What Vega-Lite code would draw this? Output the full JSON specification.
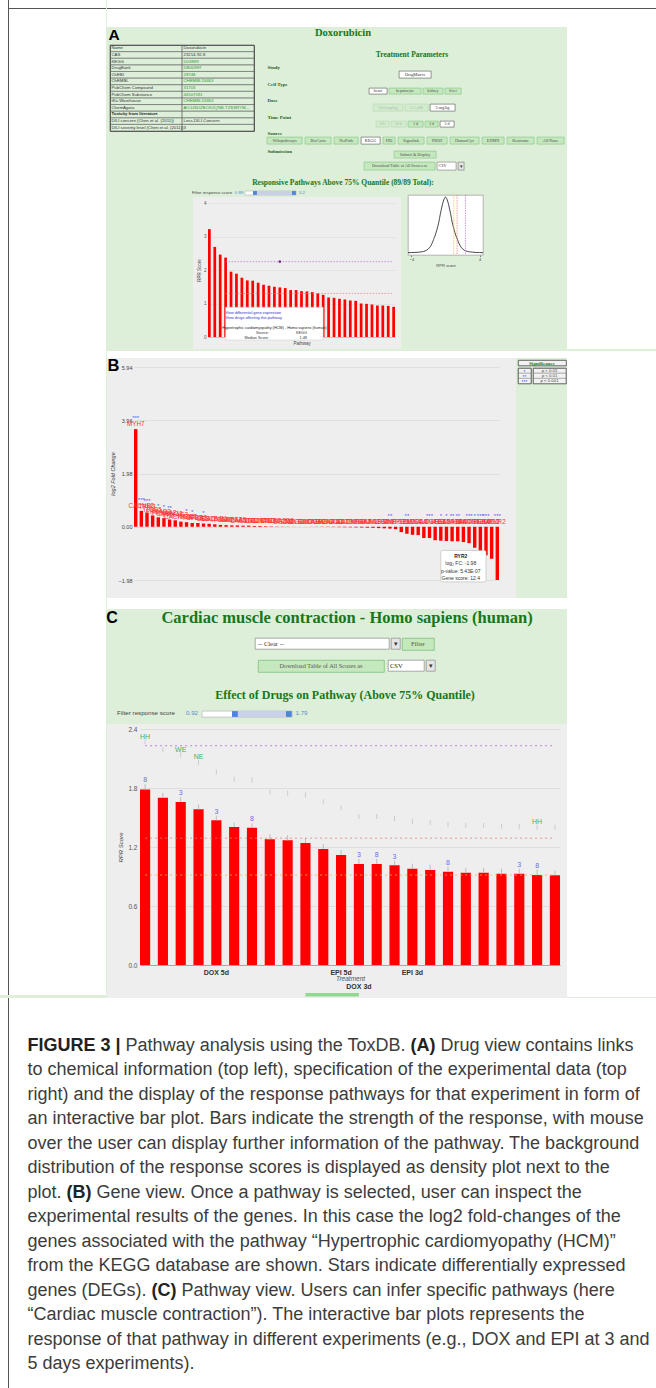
{
"$schema": "https://vega.github.io/schema/vega-lite/v6.json",
"background": "#ddeed9",
"padding": 0,
"config": {"view": {"stroke": null}, "concat": {"spacing": 0}, "axis": {"labelFont": "Liberation Sans", "titleFont": "Liberation Sans"}, "legend": {"labelFont": "Liberation Sans", "titleFont": "Liberation Sans"}, "title": {"font": "Liberation Sans"}, "text": {"font": "Liberation Sans"}},
"spacing": 0,
"vconcat": [
{"spacing": 0, "hconcat": [
 {"width": 8, "height": 995, "view": {"fill": "white"}, "data": {"values": []}, "mark": "point"},
 {"width": 1, "height": 995, "view": {"fill": "#555555"}, "data": {"values": []}, "mark": "point"},
 {"spacing": 0, "vconcat": [
   {"width": 97, "height": 8, "view": {"fill": "white"}, "data": {"values": []}, "mark": "point"},
   {"width": 97, "height": 1, "view": {"fill": "#555555"}, "data": {"values": []}, "mark": "point"},
   {"width": 97, "height": 986, "view": {"fill": "white"}, "data": {"values": []}, "mark": "point"}]},
 {"spacing": 0, "vconcat": [
   {"width": 550, "height": 8, "view": {"fill": "white"}, "data": {"values": []}, "mark": "point"},
   {"width": 550, "height": 1, "view": {"fill": "#555555"}, "data": {"values": []}, "mark": "point"},
   {"width": 550, "height": 18, "view": {"fill": "white"}, "data": {"values": []}, "mark": "point"},
   {"spacing": 0, "hconcat": [
     {"spacing": 0, "vconcat": [
       {"spacing": 0, "hconcat": [
         {"width": 14, "height": 16, "data": {"values": [{"t": "A"}]}, "mark": {"type": "text", "fontSize": 15.5, "fontWeight": "bold", "color": "#000000", "baseline": "middle"}, "encoding": {"text": {"field": "t"}}},
         {"width": 182, "height": 16, "data": {"values": []}, "mark": "point"},
         {"width": 80, "height": 16, "data": {"values": [{"t": "Doxorubicin"}]}, "mark": {"type": "text", "font": "Liberation Serif", "fontSize": 10.5, "fontWeight": "bold", "color": "#16781a", "baseline": "middle", "dy": -2}, "encoding": {"text": {"field": "t"}}},
         {"width": 184, "height": 16, "data": {"values": []}, "mark": "point"}
       ]},
       {"spacing": 0, "hconcat": [
         {"width": 2, "height": 1, "data": {"values": []}, "mark": "point"},
         {"width": 144, "height": 86, "view": {"stroke": "#333333", "strokeWidth": 0.9},
          "data": {"values": [
            {"r": 1, "k": "Name", "v": "Doxorubicin", "lk": false},
            {"r": 2, "k": "CAS", "v": "23214-92-8", "lk": false},
            {"r": 3, "k": "KEGG", "v": "D03899", "lk": true},
            {"r": 4, "k": "DrugBank", "v": "DB00997", "lk": true},
            {"r": 5, "k": "ChEBI", "v": "28748", "lk": true},
            {"r": 6, "k": "ChEMBL", "v": "CHEMBL53463", "lk": true},
            {"r": 7, "k": "PubChem Compound", "v": "31703", "lk": true},
            {"r": 8, "k": "PubChem Substance", "v": "46507591", "lk": true},
            {"r": 9, "k": "tKa Warehouse", "v": "CHEMBL53463", "lk": true},
            {"r": 10, "k": "ChemAgora", "v": "AOJJSUZBOXZQNB-TZSSRYMLSA-N", "lk": true},
            {"r": 11, "k": "Toxicity from literature", "v": "", "lk": false},
            {"r": 12, "k": "DILI concern (Chen et al. (2011))", "v": "Less-DILI-Concern", "lk": false},
            {"r": 13, "k": "DILI severity level (Chen et al. (2011))", "v": "3", "lk": false}]},
          "transform": [{"fold": ["k", "v"], "as": ["col", "txt"]}],
          "encoding": {
            "x": {"field": "col", "type": "nominal", "scale": {"paddingInner": 0, "paddingOuter": 0}, "axis": null},
            "y": {"field": "r", "type": "ordinal", "scale": {"paddingInner": 0, "paddingOuter": 0}, "axis": null}},
          "layer": [
            {"mark": {"type": "rect", "fill": "transparent", "stroke": "#666666", "strokeWidth": 0.5}},
            {"transform": [{"filter": "datum.col == 'k' && datum.r != 11"}], "mark": {"type": "text", "align": "left", "baseline": "middle", "fontSize": 4.3, "dx": 1.5, "color": "#333333", "limit": 138},
             "encoding": {"x": {"field": "col", "type": "nominal", "bandPosition": 0}, "text": {"field": "txt"}}},
            {"transform": [{"filter": "datum.col == 'v'"}], "mark": {"type": "text", "align": "left", "baseline": "middle", "fontSize": 4.3, "dx": 1.5, "limit": 68},
             "encoding": {"x": {"field": "col", "type": "nominal", "bandPosition": 0}, "text": {"field": "txt"}, "color": {"condition": {"test": "datum.lk", "value": "#2c9a2c"}, "value": "#333333"}}},
            {"transform": [{"filter": "datum.col == 'k' && datum.r == 11"}], "mark": {"type": "text", "align": "left", "baseline": "middle", "fontSize": 4.3, "fontWeight": "bold", "color": "#222222", "dx": 1.5},
             "encoding": {"x": {"field": "col", "type": "nominal", "bandPosition": 0}, "text": {"field": "txt"}}}
          ]},
         {"width": 11, "height": 1, "data": {"values": []}, "mark": "point"},
         {"spacing": 0, "vconcat": [
           {"width": 1, "height": 3, "data": {"values": []}, "mark": "point"},
           {"spacing": 0, "hconcat": [
             {"width": 100, "height": 14, "data": {"values": []}, "mark": "point"},
             {"width": 90, "height": 14, "data": {"values": [{"t": "Treatment Parameters"}]}, "mark": {"type": "text", "font": "Liberation Serif", "fontSize": 7.5, "fontWeight": "bold", "color": "#16781a", "baseline": "middle"}, "encoding": {"text": {"field": "t"}}}]},
           {"width": 1, "height": 2, "data": {"values": []}, "mark": "point"},
           {"width": 1, "height": 6, "data": {"values": [{"t": "Study"}]}, "mark": {"type": "text", "align": "left", "baseline": "middle", "font": "Liberation Serif", "fontSize": 5, "fontWeight": "bold", "color": "#1f5f1f"}, "encoding": {"text": {"field": "t"}}},
           {"spacing": 0, "hconcat": [
             {"width": 131, "height": 7, "data": {"values": []}, "mark": "point"},
             {"width": 32, "height": 7, "view": {"fill": "#ffffff", "stroke": "#555555", "strokeWidth": 0.6}, "data": {"values": [{"t": "DrugMatrix"}]}, "mark": {"type": "text", "font": "Liberation Serif", "fontSize": 4.2, "color": "#333333", "baseline": "middle"}, "encoding": {"text": {"field": "t"}}}]},
           {"width": 1, "height": 1, "data": {"values": []}, "mark": "point"},
           {"width": 1, "height": 7, "data": {"values": [{"t": "Cell Type"}]}, "mark": {"type": "text", "align": "left", "baseline": "middle", "font": "Liberation Serif", "fontSize": 5, "fontWeight": "bold", "color": "#1f5f1f"}, "encoding": {"text": {"field": "t"}}},
           {"spacing": 0, "hconcat": [
             {"width": 101, "height": 6, "data": {"values": []}, "mark": "point"},
             {"width": 18, "height": 6, "view": {"fill": "#ffffff", "stroke": "#555555", "strokeWidth": 0.6}, "data": {"values": [{"t": "heart"}]}, "mark": {"type": "text", "font": "Liberation Serif", "fontSize": 4.2, "color": "#333333", "baseline": "middle"}, "encoding": {"text": {"field": "t"}}},
             {"width": 32, "height": 6, "view": {"fill": "#c6e8bf", "stroke": "#7fc27f", "strokeWidth": 0.6}, "data": {"values": [{"t": "hepatocyte"}]}, "mark": {"type": "text", "font": "Liberation Serif", "fontSize": 4.2, "color": "#4d4d4d", "baseline": "middle"}, "encoding": {"text": {"field": "t"}}},
             {"width": 20, "height": 6, "view": {"fill": "#c6e8bf", "stroke": "#7fc27f", "strokeWidth": 0.6}, "data": {"values": [{"t": "kidney"}]}, "mark": {"type": "text", "font": "Liberation Serif", "fontSize": 4.2, "color": "#4d4d4d", "baseline": "middle"}, "encoding": {"text": {"field": "t"}}},
             {"width": 16, "height": 6, "view": {"fill": "#c6e8bf", "stroke": "#7fc27f", "strokeWidth": 0.6}, "data": {"values": [{"t": "liver"}]}, "mark": {"type": "text", "font": "Liberation Serif", "fontSize": 4.2, "color": "#4d4d4d", "baseline": "middle"}, "encoding": {"text": {"field": "t"}}}]},
           {"width": 1, "height": 2, "data": {"values": []}, "mark": "point"},
           {"width": 1, "height": 6, "data": {"values": [{"t": "Dose"}]}, "mark": {"type": "text", "align": "left", "baseline": "middle", "font": "Liberation Serif", "fontSize": 5, "fontWeight": "bold", "color": "#1f5f1f"}, "encoding": {"text": {"field": "t"}}},
           {"spacing": 0, "hconcat": [
             {"width": 105, "height": 7, "data": {"values": []}, "mark": "point"},
             {"width": 30, "height": 7, "view": {"fill": "#d3ebce", "stroke": "#b2d9ac", "strokeWidth": 0.6}, "data": {"values": [{"t": "0.63 mg/kg"}]}, "mark": {"type": "text", "font": "Liberation Serif", "fontSize": 4.2, "color": "#a9bba9", "baseline": "middle"}, "encoding": {"text": {"field": "t"}}},
             {"width": 23, "height": 7, "view": {"fill": "#d3ebce", "stroke": "#b2d9ac", "strokeWidth": 0.6}, "data": {"values": [{"t": "5.5 µM"}]}, "mark": {"type": "text", "font": "Liberation Serif", "fontSize": 4.2, "color": "#a9bba9", "baseline": "middle"}, "encoding": {"text": {"field": "t"}}},
             {"width": 25, "height": 7, "view": {"fill": "#ffffff", "stroke": "#555555", "strokeWidth": 0.6}, "data": {"values": [{"t": "3 mg/kg"}]}, "mark": {"type": "text", "font": "Liberation Serif", "fontSize": 4.2, "color": "#333333", "baseline": "middle"}, "encoding": {"text": {"field": "t"}}}]},
           {"width": 1, "height": 1, "data": {"values": []}, "mark": "point"},
           {"width": 1, "height": 7, "data": {"values": [{"t": "Time Point"}]}, "mark": {"type": "text", "align": "left", "baseline": "middle", "font": "Liberation Serif", "fontSize": 5, "fontWeight": "bold", "color": "#1f5f1f"}, "encoding": {"text": {"field": "t"}}},
           {"spacing": 0, "hconcat": [
             {"width": 108, "height": 6, "data": {"values": []}, "mark": "point"},
             {"width": 13, "height": 6, "view": {"fill": "#d3ebce", "stroke": "#b2d9ac", "strokeWidth": 0.6}, "data": {"values": [{"t": "6 h"}]}, "mark": {"type": "text", "font": "Liberation Serif", "fontSize": 4.2, "color": "#a9bba9", "baseline": "middle"}, "encoding": {"text": {"field": "t"}}},
             {"width": 15, "height": 6, "view": {"fill": "#d3ebce", "stroke": "#b2d9ac", "strokeWidth": 0.6}, "data": {"values": [{"t": "16 h"}]}, "mark": {"type": "text", "font": "Liberation Serif", "fontSize": 4.2, "color": "#a9bba9", "baseline": "middle"}, "encoding": {"text": {"field": "t"}}},
             {"width": 15, "height": 6, "view": {"fill": "#c6e8bf", "stroke": "#7fc27f", "strokeWidth": 0.6}, "data": {"values": [{"t": "1 d"}]}, "mark": {"type": "text", "font": "Liberation Serif", "fontSize": 4.2, "color": "#4d4d4d", "baseline": "middle"}, "encoding": {"text": {"field": "t"}}},
             {"width": 13, "height": 6, "view": {"fill": "#c6e8bf", "stroke": "#7fc27f", "strokeWidth": 0.6}, "data": {"values": [{"t": "3 d"}]}, "mark": {"type": "text", "font": "Liberation Serif", "fontSize": 4.2, "color": "#4d4d4d", "baseline": "middle"}, "encoding": {"text": {"field": "t"}}},
             {"width": 14, "height": 6, "view": {"fill": "#ffffff", "stroke": "#555555", "strokeWidth": 0.6}, "data": {"values": [{"t": "5 d"}]}, "mark": {"type": "text", "font": "Liberation Serif", "fontSize": 4.2, "color": "#333333", "baseline": "middle"}, "encoding": {"text": {"field": "t"}}}]},
           {"width": 1, "height": 1, "data": {"values": []}, "mark": "point"},
           {"width": 1, "height": 7, "data": {"values": [{"t": "Source"}]}, "mark": {"type": "text", "align": "left", "baseline": "middle", "font": "Liberation Serif", "fontSize": 5, "fontWeight": "bold", "color": "#1f5f1f"}, "encoding": {"text": {"field": "t"}}},
           {"spacing": 1, "hconcat": [
             {"width": 35, "height": 7, "view": {"fill": "#c6e8bf", "stroke": "#7fc27f", "strokeWidth": 0.6}, "data": {"values": [{"t": "Wikipathways"}]}, "mark": {"type": "text", "font": "Liberation Serif", "fontSize": 4.2, "color": "#4d4d4d", "baseline": "middle"}, "encoding": {"text": {"field": "t"}}},
             {"width": 26, "height": 7, "view": {"fill": "#c6e8bf", "stroke": "#7fc27f", "strokeWidth": 0.6}, "data": {"values": [{"t": "BioCarta"}]}, "mark": {"type": "text", "font": "Liberation Serif", "fontSize": 4.2, "color": "#4d4d4d", "baseline": "middle"}, "encoding": {"text": {"field": "t"}}},
             {"width": 24, "height": 7, "view": {"fill": "#c6e8bf", "stroke": "#7fc27f", "strokeWidth": 0.6}, "data": {"values": [{"t": "NetPath"}]}, "mark": {"type": "text", "font": "Liberation Serif", "fontSize": 4.2, "color": "#4d4d4d", "baseline": "middle"}, "encoding": {"text": {"field": "t"}}},
             {"width": 19, "height": 7, "view": {"fill": "#ffffff", "stroke": "#555555", "strokeWidth": 0.6}, "data": {"values": [{"t": "KEGG"}]}, "mark": {"type": "text", "font": "Liberation Serif", "fontSize": 4.2, "color": "#333333", "baseline": "middle"}, "encoding": {"text": {"field": "t"}}},
             {"width": 12, "height": 7, "view": {"fill": "#c6e8bf", "stroke": "#7fc27f", "strokeWidth": 0.6}, "data": {"values": [{"t": "PID"}]}, "mark": {"type": "text", "font": "Liberation Serif", "fontSize": 4.2, "color": "#4d4d4d", "baseline": "middle"}, "encoding": {"text": {"field": "t"}}},
             {"width": 26, "height": 7, "view": {"fill": "#c6e8bf", "stroke": "#7fc27f", "strokeWidth": 0.6}, "data": {"values": [{"t": "Signalink"}]}, "mark": {"type": "text", "font": "Liberation Serif", "fontSize": 4.2, "color": "#4d4d4d", "baseline": "middle"}, "encoding": {"text": {"field": "t"}}},
             {"width": 20, "height": 7, "view": {"fill": "#c6e8bf", "stroke": "#7fc27f", "strokeWidth": 0.6}, "data": {"values": [{"t": "INOH"}]}, "mark": {"type": "text", "font": "Liberation Serif", "fontSize": 4.2, "color": "#4d4d4d", "baseline": "middle"}, "encoding": {"text": {"field": "t"}}},
             {"width": 29, "height": 7, "view": {"fill": "#c6e8bf", "stroke": "#7fc27f", "strokeWidth": 0.6}, "data": {"values": [{"t": "HumanCyc"}]}, "mark": {"type": "text", "font": "Liberation Serif", "fontSize": 4.2, "color": "#4d4d4d", "baseline": "middle"}, "encoding": {"text": {"field": "t"}}},
             {"width": 22, "height": 7, "view": {"fill": "#c6e8bf", "stroke": "#7fc27f", "strokeWidth": 0.6}, "data": {"values": [{"t": "EHMN"}]}, "mark": {"type": "text", "font": "Liberation Serif", "fontSize": 4.2, "color": "#4d4d4d", "baseline": "middle"}, "encoding": {"text": {"field": "t"}}},
             {"width": 27, "height": 7, "view": {"fill": "#c6e8bf", "stroke": "#7fc27f", "strokeWidth": 0.6}, "data": {"values": [{"t": "Reactome"}]}, "mark": {"type": "text", "font": "Liberation Serif", "fontSize": 4.2, "color": "#4d4d4d", "baseline": "middle"}, "encoding": {"text": {"field": "t"}}},
             {"width": 27, "height": 7, "view": {"fill": "#c6e8bf", "stroke": "#7fc27f", "strokeWidth": 0.6}, "data": {"values": [{"t": "All/None"}]}, "mark": {"type": "text", "font": "Liberation Serif", "fontSize": 4.2, "color": "#4d4d4d", "baseline": "middle"}, "encoding": {"text": {"field": "t"}}}]},
           {"width": 1, "height": 2, "data": {"values": []}, "mark": "point"},
           {"spacing": 0, "hconcat": [
             {"width": 30, "height": 7, "data": {"values": [{"t": "Submission"}]}, "mark": {"type": "text", "align": "left", "baseline": "middle", "font": "Liberation Serif", "fontSize": 5, "fontWeight": "bold", "color": "#1f5f1f", "dx": -14.5}, "encoding": {"text": {"field": "t"}}},
             {"width": 96, "height": 1, "data": {"values": []}, "mark": "point"},
             {"spacing": 0, "vconcat": [
               {"width": 1, "height": 3, "data": {"values": []}, "mark": "point"},
               {"width": 42, "height": 7, "view": {"fill": "#c6e8bf", "stroke": "#7fc27f", "strokeWidth": 0.6}, "data": {"values": [{"t": "Submit & Display"}]}, "mark": {"type": "text", "font": "Liberation Serif", "fontSize": 4.2, "color": "#4d4d4d", "baseline": "middle"}, "encoding": {"text": {"field": "t"}}}]}]},
           {"width": 1, "height": 2, "data": {"values": []}, "mark": "point"},
           {"spacing": 0, "hconcat": [
             {"width": 96, "height": 8, "data": {"values": []}, "mark": "point"},
             {"width": 71, "height": 8, "view": {"fill": "#c6e8bf", "stroke": "#7fc27f", "strokeWidth": 0.6}, "data": {"values": [{"t": "Download Table of All Scores as"}]}, "mark": {"type": "text", "font": "Liberation Serif", "fontSize": 4.2, "color": "#4d4d4d", "baseline": "middle"}, "encoding": {"text": {"field": "t"}}},
             {"width": 19, "height": 8, "view": {"fill": "#ffffff", "stroke": "#777777", "strokeWidth": 0.6}, "data": {"values": [{"t": "CSV"}]}, "mark": {"type": "text", "font": "Liberation Serif", "fontSize": 4.2, "color": "#333333", "baseline": "middle", "align": "left", "dx": -8}, "encoding": {"text": {"field": "t"}}},
             {"width": 6, "height": 8, "view": {"fill": "#e3e3e3", "stroke": "#777777", "strokeWidth": 0.6}, "data": {"values": [{"t": "▾"}]}, "mark": {"type": "text", "fontSize": 5, "color": "#333333", "baseline": "middle"}, "encoding": {"text": {"field": "t"}}}]}
         ]}
       ]},
       {"width": 1, "height": 6, "data": {"values": []}, "mark": "point"},
       {"spacing": 0, "hconcat": [
         {"width": 126, "height": 12, "data": {"values": []}, "mark": "point"},
         {"width": 220, "height": 12, "data": {"values": [{"t": "Responsive Pathways Above 75% Quantile (89/89 Total):"}]}, "mark": {"type": "text", "font": "Liberation Serif", "fontSize": 7.5, "fontWeight": "bold", "color": "#16781a", "baseline": "middle"}, "encoding": {"text": {"field": "t"}}}]},
       {"spacing": 0, "hconcat": [
         {"spacing": 0, "vconcat": [
           {"spacing": 0, "hconcat": [
             {"width": 83, "height": 8, "data": {"values": []}, "mark": "point"},
             {"width": 44, "height": 8, "data": {"values": [{"t": "Filter response score"}]}, "mark": {"type": "text", "fontSize": 4.3, "color": "#444444", "baseline": "middle"}, "encoding": {"text": {"field": "t"}}},
             {"width": 10, "height": 8, "data": {"values": [{"t": "0.89"}]}, "mark": {"type": "text", "fontSize": 4.3, "color": "#5b8bd0", "baseline": "middle"}, "encoding": {"text": {"field": "t"}}},
             {"spacing": 0, "vconcat": [
               {"width": 1, "height": 1, "data": {"values": []}, "mark": "point"},
               {"width": 51, "height": 4, "view": {"fill": "#ffffff", "stroke": "#aaaaaa", "strokeWidth": 0.5},
                "layer": [
                  {"data": {"values": [{"lo": 0.89, "hi": 3.2}]}, "mark": {"type": "rect", "color": "#c9d0ea"}, "encoding": {"x": {"field": "lo", "type": "quantitative", "scale": {"domain": [0.3, 3.32], "nice": false, "zero": false}, "axis": null}, "x2": {"field": "hi"}}},
                  {"data": {"values": [{"v": 0.89}, {"v": 3.2}]}, "mark": {"type": "square", "color": "#4f86d9", "opacity": 1, "size": 15}, "encoding": {"x": {"field": "v", "type": "quantitative", "axis": null}}}]}]},
             {"width": 10, "height": 8, "data": {"values": [{"t": "3.2"}]}, "mark": {"type": "text", "fontSize": 4.3, "color": "#5b8bd0", "baseline": "middle"}, "encoding": {"text": {"field": "t"}}}]},
           {"spacing": 0, "hconcat": [
             {"width": 86, "height": 1, "data": {"values": []}, "mark": "point"},
             {"width": 208, "height": 152, "view": {"fill": "#eeeeee"},
              "resolve": {"scale": {"y": "independent"}},
              "layer": [
                {"data": {"values": [
                  {"pw": "PW01", "score": 3.22}, {"pw": "PW02", "score": 2.69}, {"pw": "PW03", "score": 2.46}, {"pw": "PW04", "score": 2.37}, {"pw": "PW05", "score": 1.95},
                  {"pw": "PW06", "score": 1.89}, {"pw": "PW07", "score": 1.77}, {"pw": "PW08", "score": 1.69}, {"pw": "PW09", "score": 1.68}, {"pw": "PW10", "score": 1.62},
                  {"pw": "PW11", "score": 1.56}, {"pw": "PW12", "score": 1.53}, {"pw": "PW13", "score": 1.5}, {"pw": "Hypertrophic cardiomyopathy (HCM)", "score": 1.48}, {"pw": "PW15", "score": 1.46},
                  {"pw": "PW16", "score": 1.4}, {"pw": "PW17", "score": 1.4}, {"pw": "PW18", "score": 1.37}, {"pw": "PW19", "score": 1.36}, {"pw": "PW20", "score": 1.34},
                  {"pw": "PW21", "score": 1.3}, {"pw": "PW22", "score": 1.26}, {"pw": "PW23", "score": 1.18}, {"pw": "PW24", "score": 1.17}, {"pw": "PW25", "score": 1.14},
                  {"pw": "PW26", "score": 1.12}, {"pw": "PW27", "score": 1.09}, {"pw": "PW28", "score": 1.08}, {"pw": "PW29", "score": 1.0}, {"pw": "PW30", "score": 0.99},
                  {"pw": "PW31", "score": 0.97}, {"pw": "PW32", "score": 0.94}, {"pw": "PW33", "score": 0.94}, {"pw": "PW34", "score": 0.93}, {"pw": "PW35", "score": 0.9}]},
                 "mark": {"type": "bar", "color": "#ff0000"},
                 "encoding": {
                   "x": {"field": "pw", "type": "nominal", "sort": null, "scale": {"range": [15, 202], "paddingInner": 0.5, "paddingOuter": 0}, "axis": {"offset": -12, "labels": false, "ticks": false, "domain": true, "domainColor": "#aaaaaa", "domainWidth": 0.5, "title": "Pathway", "titleFontSize": 4.5, "titleFontWeight": "normal", "titleColor": "#444444", "titlePadding": 3}},
                   "y": {"field": "score", "type": "quantitative", "scale": {"domain": [0, 4], "range": [140, 6], "nice": false, "zero": false}, "axis": {"offset": -15, "values": [0, 1, 2, 3, 4], "labelFontSize": 4.5, "labelColor": "#555555", "ticks": false, "domain": false, "grid": true, "gridColor": "#d9d9d9", "gridWidth": 0.5, "labelPadding": 2, "title": "RPR Score", "titleFontSize": 4.5, "titleFontWeight": "normal", "titleColor": "#444444", "titlePadding": 2}},
                   "y2": {"datum": 0}}},
                {"data": {"values": [{"q": "99%", "v": 2.25}, {"q": "95%", "v": 1.3}]},
                 "mark": {"type": "rule", "strokeDash": [1.5, 1.5], "strokeWidth": 0.7},
                 "encoding": {"x": {"datum": "PW04"}, "x2": {"datum": "PW35"}, "y": {"field": "v", "type": "quantitative", "scale": {"domain": [0, 4], "range": [140, 6], "nice": false, "zero": false}, "axis": null},
                   "color": {"field": "q", "type": "nominal", "scale": {"domain": ["99%", "95%", "90%"], "range": ["#b26bd0", "#e77c7c", "#f5b342"]}, "legend": null}}},
                {"data": {"values": [{"pw": "Hypertrophic cardiomyopathy (HCM)", "v": 2.25}]},
                 "mark": {"type": "circle", "color": "#7a2f8a", "size": 7, "opacity": 1},
                 "encoding": {"x": {"field": "pw", "type": "nominal", "sort": null}, "y": {"field": "v", "type": "quantitative", "scale": {"domain": [0, 4], "range": [140, 6], "nice": false, "zero": false}, "axis": null}}},
                {"data": {"values": [{}]},
                 "mark": {"type": "rect", "fill": "#ffffff", "stroke": "#c8c8c8", "strokeWidth": 0.5},
                 "encoding": {"x": {"datum": "PW04"}, "x2": {"datum": "PW22"}, "y": {"datum": 0.89, "type": "quantitative", "scale": {"domain": [0, 4], "range": [140, 6], "nice": false, "zero": false}, "axis": null}, "y2": {"datum": -0.09}}},
                {"data": {"values": [{"i": 1, "t": "View differential gene expression"}, {"i": 2, "t": "View drugs affecting this pathway"}]},
                 "mark": {"type": "text", "align": "left", "baseline": "middle", "fontSize": 3.8, "color": "#3030c8"},
                 "encoding": {"x": {"datum": "PW04"}, "y": {"field": "i", "type": "ordinal", "scale": {"type": "point", "domain": [1, 2, 3, 4, 5, 6], "range": [116, 140.5], "padding": 0}, "axis": null}, "text": {"field": "t"}}},
                {"data": {"values": [{"i": 4, "t": "Hypertrophic cardiomyopathy (HCM) - Homo sapiens (human)"}]},
                 "mark": {"type": "text", "baseline": "middle", "fontSize": 3.8, "color": "#222222"},
                 "encoding": {"x": {"datum": "PW13"}, "y": {"field": "i", "type": "ordinal", "scale": {"type": "point", "domain": [1, 2, 3, 4, 5, 6], "range": [116, 140.5], "padding": 0}, "axis": null}, "text": {"field": "t"}}},
                {"data": {"values": [{"i": 5, "t": "Source:"}, {"i": 6, "t": "Median Score:"}]},
                 "mark": {"type": "text", "align": "right", "baseline": "middle", "fontSize": 3.8, "color": "#333333"},
                 "encoding": {"x": {"datum": "PW12"}, "y": {"field": "i", "type": "ordinal", "scale": {"type": "point", "domain": [1, 2, 3, 4, 5, 6], "range": [116, 140.5], "padding": 0}, "axis": null}, "text": {"field": "t"}}},
                {"data": {"values": [{"i": 5, "t": "KEGG"}, {"i": 6, "t": "1.48"}]},
                 "mark": {"type": "text", "align": "right", "baseline": "middle", "fontSize": 3.8, "color": "#333333"},
                 "encoding": {"x": {"datum": "PW19"}, "y": {"field": "i", "type": "ordinal", "scale": {"type": "point", "domain": [1, 2, 3, 4, 5, 6], "range": [116, 140.5], "padding": 0}, "axis": null}, "text": {"field": "t"}}}
              ]}]},
           {"width": 1, "height": 2, "data": {"values": []}, "mark": "point"}
         ]},
         {"width": 4, "height": 1, "data": {"values": []}, "mark": "point"},
         {"spacing": 0, "vconcat": [
           {"width": 1, "height": 5, "data": {"values": []}, "mark": "point"},
           {"width": 75, "height": 60, "view": {"fill": "#ffffff", "stroke": "#999999", "strokeWidth": 0.7},
            "layer": [
              {"data": {"values": [
                {"x": -4.4, "d": 0.006}, {"x": -4.0, "d": 0.008}, {"x": -3.6, "d": 0.01}, {"x": -3.2, "d": 0.014}, {"x": -2.8, "d": 0.021}, {"x": -2.4, "d": 0.036},
                {"x": -2.2, "d": 0.05}, {"x": -2.0, "d": 0.075}, {"x": -1.8, "d": 0.11}, {"x": -1.6, "d": 0.165}, {"x": -1.4, "d": 0.24}, {"x": -1.2, "d": 0.32},
                {"x": -1.0, "d": 0.42}, {"x": -0.8, "d": 0.54}, {"x": -0.6, "d": 0.7}, {"x": -0.4, "d": 0.84}, {"x": -0.2, "d": 0.95}, {"x": 0.0, "d": 1.0},
                {"x": 0.2, "d": 0.95}, {"x": 0.4, "d": 0.84}, {"x": 0.6, "d": 0.7}, {"x": 0.8, "d": 0.54}, {"x": 1.0, "d": 0.42}, {"x": 1.2, "d": 0.32},
                {"x": 1.4, "d": 0.24}, {"x": 1.6, "d": 0.165}, {"x": 1.8, "d": 0.11}, {"x": 2.0, "d": 0.075}, {"x": 2.2, "d": 0.05}, {"x": 2.4, "d": 0.036},
                {"x": 2.8, "d": 0.021}, {"x": 3.2, "d": 0.014}, {"x": 3.6, "d": 0.01}, {"x": 4.0, "d": 0.008}, {"x": 4.4, "d": 0.006}]},
               "mark": {"type": "line", "color": "#333333", "strokeWidth": 0.9, "interpolate": "monotone"},
               "encoding": {
                 "x": {"field": "x", "type": "quantitative", "scale": {"domain": [-4.4, 4.4], "nice": false, "zero": false}, "axis": {"values": [-4, -2, 0, 2, 4], "labelFontSize": 4, "labelColor": "#444444", "labelFlush": false, "tickSize": 1.5, "tickColor": "#777777", "domain": false, "grid": false, "labelPadding": 1, "title": "RPR score", "titleFontSize": 4, "titleFontWeight": "normal", "titleColor": "#444444", "titlePadding": 2}},
                 "y": {"field": "d", "type": "quantitative", "scale": {"domain": [0, 1], "range": [58, 2], "nice": false}, "axis": null}}},
              {"data": {"values": [{"q": "99%", "v": 2.34}, {"q": "95%", "v": 1.36}, {"q": "90%", "v": 0.97}]},
               "mark": {"type": "rule", "strokeDash": [1.5, 1], "strokeWidth": 0.7},
               "encoding": {"x": {"field": "v", "type": "quantitative"},
                 "color": {"field": "q", "type": "nominal", "scale": {"domain": ["99%", "95%", "90%"], "range": ["#9a7fe0", "#e05555", "#f2c040"]},
                   "legend": {"title": "Quantiles", "orient": "top-left", "offset": 1, "padding": 1.2, "titleFontSize": 3.5, "titleFontWeight": "normal", "labelFontSize": 3.3, "symbolType": "square", "symbolSize": 5, "symbolStrokeWidth": 1.5, "rowPadding": 0.3, "strokeColor": "#888888", "fillColor": "#ffffff", "titlePadding": 0.8, "labelOffset": 1.2, "titleColor": "#333333", "labelColor": "#333333"}}}}
            ]}
         ]}
       ]}
     ]},
     {"width": 90, "height": 322, "view": {"fill": "white"}, "data": {"values": []}, "mark": "point"}
   ]},
   {"width": 550, "height": 7, "view": {"fill": "white"}, "data": {"values": []}, "mark": "point"},
   {"spacing": 0, "hconcat": [
     {"width": 409, "height": 240, "view": {"fill": "#eeeeee"},
      "data": {"values": [
        {"g": "MYH7", "lfc": 3.63, "sig": "***"}, {"g": "CACNB2", "lfc": 0.59, "sig": "***"}, {"g": "TPM3", "lfc": 0.53, "sig": "***"}, {"g": "ITGB5", "lfc": 0.42},
        {"g": "PRKAB2", "lfc": 0.35, "sig": "*"}, {"g": "PRKAA2", "lfc": 0.32, "sig": "*"}, {"g": "CACNG8", "lfc": 0.27, "sig": "**"}, {"g": "PRKAG3", "lfc": 0.24},
        {"g": "CACNA2D1", "lfc": 0.19}, {"g": "ITGA7", "lfc": 0.17, "sig": "*"}, {"g": "TGFB2", "lfc": 0.14, "sig": "*"}, {"g": "ITGB3", "lfc": 0.14},
        {"g": "DES", "lfc": 0.12, "sig": "*"}, {"g": "SGCB", "lfc": 0.11}, {"g": "CACNB1", "lfc": 0.09}, {"g": "ITGA6", "lfc": 0.07},
        {"g": "IGF1", "lfc": 0.06}, {"g": "LAMA2", "lfc": 0.05}, {"g": "ITGA5", "lfc": 0.05}, {"g": "CACNG6", "lfc": 0.04},
        {"g": "ACTC1", "lfc": 0.04}, {"g": "ITGA9", "lfc": 0.03}, {"g": "CACNA1D", "lfc": 0.03}, {"g": "TTN", "lfc": 0.02},
        {"g": "ITGB6", "lfc": 0.015}, {"g": "CACNA2D3", "lfc": 0.01}, {"g": "SGCG", "lfc": 0.008}, {"g": "DMD", "lfc": 0.006},
        {"g": "TNNT2", "lfc": 0.004}, {"g": "ITGA10", "lfc": 0.002}, {"g": "EMD", "lfc": -0.002}, {"g": "CACNB4", "lfc": -0.004},
        {"g": "ITGB8", "lfc": -0.006}, {"g": "ATP2A2", "lfc": -0.008}, {"g": "CACNA1C", "lfc": -0.01}, {"g": "SGCD", "lfc": -0.012},
        {"g": "ITGA3", "lfc": -0.015}, {"g": "ACTB", "lfc": -0.018}, {"g": "CACNG4", "lfc": -0.02}, {"g": "TNNI3", "lfc": -0.025},
        {"g": "ITGA2", "lfc": -0.03}, {"g": "PRKAA1", "lfc": -0.035}, {"g": "MYL3", "lfc": -0.04}, {"g": "TGFB1", "lfc": -0.05},
        {"g": "ITGA8", "lfc": -0.06}, {"g": "TNF", "lfc": -0.07, "sig": "**"}, {"g": "MYBPC3", "lfc": -0.09}, {"g": "ITGB1", "lfc": -0.2},
        {"g": "TPM2", "lfc": -0.26, "sig": "**"}, {"g": "LMNA", "lfc": -0.3}, {"g": "SGCA", "lfc": -0.31}, {"g": "IL6", "lfc": -0.42},
        {"g": "CACNA1S", "lfc": -0.42, "sig": "***"}, {"g": "TGFB3", "lfc": -0.5}, {"g": "ITGA1", "lfc": -0.52, "sig": "*"}, {"g": "SLC8A1", "lfc": -0.53, "sig": "*"},
        {"g": "MYH6", "lfc": -0.54, "sig": "**"}, {"g": "ITGA4", "lfc": -0.54, "sig": "**"}, {"g": "TPM4", "lfc": -0.57}, {"g": "ACTG1", "lfc": -0.61, "sig": "***"},
        {"g": "CACNA2D2", "lfc": -0.78, "sig": "*"}, {"g": "ITGB4", "lfc": -0.92, "sig": "***"}, {"g": "PRKAG2", "lfc": -1.06, "sig": "***"}, {"g": "MYL2", "lfc": -1.19},
        {"g": "RYR2", "lfc": -1.98, "sig": "***"}]},
      "resolve": {"scale": {"y": "independent"}},
      "layer": [
        {"mark": {"type": "bar", "color": "#ff0000"},
         "encoding": {
           "x": {"field": "g", "type": "nominal", "sort": null, "scale": {"range": [27, 392], "paddingInner": 0.4, "paddingOuter": 0}, "axis": null},
           "y": {"field": "lfc", "type": "quantitative", "scale": {"domain": [-1.98, 5.94], "range": [222, 9], "nice": false, "zero": false}, "axis": {"offset": -27, "values": [-1.98, 0, 1.98, 3.96, 5.94], "format": ".2f", "labelFontSize": 5.5, "labelColor": "#444444", "ticks": false, "domain": false, "grid": true, "gridColor": "#d8d8d8", "gridWidth": 0.7, "labelPadding": 2, "title": "log2 Fold Change", "titleFontSize": 5.5, "titleFontStyle": "italic", "titleFontWeight": "normal", "titleColor": "#333333", "titlePadding": 3}},
           "y2": {"datum": 0}}},
        {"data": {"values": [{"t": "B"}]},
         "mark": {"type": "text", "fontSize": 16.5, "fontWeight": "bold", "color": "#000000", "align": "left", "baseline": "top", "dx": -28.3},
         "encoding": {"x": {"datum": "MYH7", "axis": null}, "y": {"datum": 6.26, "type": "quantitative", "scale": {"domain": [-1.98, 5.94], "range": [222, 9], "nice": false, "zero": false}, "axis": null}, "text": {"field": "t"}}},
        {"transform": [{"filter": "datum.lfc >= 0"}],
         "mark": {"type": "text", "color": "#ff3333", "fontSize": 6.3, "baseline": "alphabetic", "dy": -3},
         "encoding": {"x": {"field": "g", "type": "nominal", "sort": null, "axis": null}, "y": {"field": "lfc", "type": "quantitative", "scale": {"domain": [-1.98, 5.94], "range": [222, 9], "nice": false, "zero": false}, "axis": null}, "text": {"field": "g"}}},
        {"transform": [{"filter": "datum.lfc < 0"}],
         "mark": {"type": "text", "color": "#ff3333", "fontSize": 6.3, "baseline": "alphabetic", "dy": -3},
         "encoding": {"x": {"field": "g", "type": "nominal", "sort": null, "axis": null}, "y": {"datum": 0, "type": "quantitative", "scale": {"domain": [-1.98, 5.94], "range": [222, 9], "nice": false, "zero": false}, "axis": null}, "text": {"field": "g"}}},
        {"transform": [{"filter": "datum.lfc >= 0 && datum.sig"}],
         "mark": {"type": "text", "color": "#4f5dff", "fontSize": 6, "baseline": "alphabetic", "dy": -9},
         "encoding": {"x": {"field": "g", "type": "nominal", "sort": null, "axis": null}, "y": {"field": "lfc", "type": "quantitative", "scale": {"domain": [-1.98, 5.94], "range": [222, 9], "nice": false, "zero": false}, "axis": null}, "text": {"field": "sig"}}},
        {"transform": [{"filter": "datum.lfc < 0 && datum.sig"}],
         "mark": {"type": "text", "color": "#4f5dff", "fontSize": 6, "baseline": "alphabetic", "dy": -9},
         "encoding": {"x": {"field": "g", "type": "nominal", "sort": null, "axis": null}, "y": {"datum": 0, "type": "quantitative", "scale": {"domain": [-1.98, 5.94], "range": [222, 9], "nice": false, "zero": false}, "axis": null}, "text": {"field": "sig"}}},
        {"data": {"values": [{}]},
         "mark": {"type": "rect", "fill": "#ffffff", "stroke": "#b5b5b5", "strokeWidth": 0.6, "cornerRadius": 1.5},
         "encoding": {"x": {"datum": "ITGA1", "axis": null}, "x2": {"datum": "PRKAG2"}, "y": {"datum": -0.88, "type": "quantitative", "scale": {"domain": [-1.98, 5.94], "range": [222, 9], "nice": false, "zero": false}, "axis": null}, "y2": {"datum": -2.05}}},
        {"data": {"values": [{"i": 1, "t": "RYR2"}]},
         "mark": {"type": "text", "fontSize": 5, "fontWeight": "bold", "color": "#222222", "baseline": "middle", "dx": 3},
         "encoding": {"x": {"datum": "ITGA4", "axis": null}, "y": {"field": "i", "type": "ordinal", "scale": {"type": "point", "domain": [1, 2, 3, 4], "range": [197.5, 220], "padding": 0}, "axis": null}, "text": {"field": "t"}}},
        {"data": {"values": [{"i": 2, "t": "log₂ FC:    -1.98"}, {"i": 3, "t": "p-value:    5.43E-07"}, {"i": 4, "t": "Gene score:    12.4"}]},
         "mark": {"type": "text", "fontSize": 5, "color": "#333333", "baseline": "middle", "dx": 3},
         "encoding": {"x": {"datum": "ITGA4", "axis": null}, "y": {"field": "i", "type": "ordinal", "scale": {"type": "point", "domain": [1, 2, 3, 4], "range": [197.5, 220], "padding": 0}, "axis": null}, "text": {"field": "t"}}}
      ]},
     {"spacing": 0, "vconcat": [
       {"width": 51, "height": 1, "data": {"values": []}, "mark": "point"},
       {"spacing": 0, "hconcat": [
         {"width": 1, "height": 1, "data": {"values": []}, "mark": "point"},
         {"spacing": 0, "vconcat": [
           {"width": 48, "height": 5.5, "view": {"fill": "#f2f2f2", "stroke": "#444444", "strokeWidth": 0.8}, "data": {"values": [{"t": "Significance"}]}, "mark": {"type": "text", "font": "Liberation Serif", "fontSize": 5, "fontWeight": "bold", "color": "#16781a", "baseline": "middle"}, "encoding": {"text": {"field": "t"}}},
           {"spacing": 0, "hconcat": [
             {"width": 13, "height": 15.5, "view": {"fill": "#f2f2f2", "stroke": "#444444", "strokeWidth": 0.8},
              "data": {"values": [{"r": 1, "t": "*"}, {"r": 2, "t": "**"}, {"r": 3, "t": "***"}]},
              "encoding": {"y": {"field": "r", "type": "ordinal", "scale": {"paddingInner": 0, "paddingOuter": 0}, "axis": null}},
              "layer": [
                {"mark": {"type": "rect", "fill": "transparent", "stroke": "#888888", "strokeWidth": 0.4}},
                {"mark": {"type": "text", "fontSize": 5, "color": "#4f5dff", "baseline": "middle", "dy": 1}, "encoding": {"text": {"field": "t"}}}]},
             {"width": 33, "height": 15.5, "view": {"fill": "#f2f2f2", "stroke": "#444444", "strokeWidth": 0.8},
              "data": {"values": [{"r": 1, "t": "p < 0.05"}, {"r": 2, "t": "p < 0.01"}, {"r": 3, "t": "p < 0.001"}]},
              "encoding": {"y": {"field": "r", "type": "ordinal", "scale": {"paddingInner": 0, "paddingOuter": 0}, "axis": null}},
              "layer": [
                {"mark": {"type": "rect", "fill": "transparent", "stroke": "#888888", "strokeWidth": 0.4}},
                {"mark": {"type": "text", "fontSize": 4.3, "color": "#444444", "baseline": "middle"}, "encoding": {"text": {"field": "t"}}}]}
           ]}
         ]}
       ]}
     ]},
     {"width": 90, "height": 240, "view": {"fill": "white"}, "data": {"values": []}, "mark": "point"}
   ]},
   {"width": 550, "height": 11, "view": {"fill": "white"}, "data": {"values": []}, "mark": "point"},
   {"spacing": 0, "hconcat": [
     {"spacing": 0, "vconcat": [
       {"spacing": 0, "hconcat": [
         {"width": 14, "height": 18, "data": {"values": [{"t": "C"}]}, "mark": {"type": "text", "fontSize": 16, "fontWeight": "bold", "color": "#000000", "baseline": "middle", "dx": -2}, "encoding": {"text": {"field": "t"}}},
         {"width": 6, "height": 18, "data": {"values": []}, "mark": "point"},
         {"width": 440, "height": 18, "data": {"values": [{"t": "Cardiac muscle contraction - Homo sapiens (human)"}]}, "mark": {"type": "text", "font": "Liberation Serif", "fontSize": 16.5, "fontWeight": "bold", "color": "#16781a", "baseline": "middle"}, "encoding": {"text": {"field": "t"}}}]},
       {"width": 1, "height": 10, "data": {"values": []}, "mark": "point"},
       {"spacing": 0, "hconcat": [
         {"width": 147, "height": 12, "data": {"values": []}, "mark": "point"},
         {"width": 134, "height": 11, "view": {"fill": "#ffffff", "stroke": "#8a8a8a", "strokeWidth": 0.7}, "data": {"values": [{"t": "-- Clear --"}]}, "mark": {"type": "text", "font": "Liberation Serif", "fontSize": 6.5, "color": "#333333", "baseline": "middle", "align": "left", "dx": -64}, "encoding": {"text": {"field": "t"}}},
         {"width": 9, "height": 11, "view": {"fill": "#e6e6e6", "stroke": "#8a8a8a", "strokeWidth": 0.7}, "data": {"values": [{"t": "▾"}]}, "mark": {"type": "text", "fontSize": 7, "color": "#333333", "baseline": "middle"}, "encoding": {"text": {"field": "t"}}},
         {"width": 32, "height": 12, "view": {"fill": "#c6e8bf", "stroke": "#7fc27f", "strokeWidth": 0.8}, "data": {"values": [{"t": "Filter"}]}, "mark": {"type": "text", "font": "Liberation Serif", "fontSize": 6.5, "color": "#555555", "baseline": "middle"}, "encoding": {"text": {"field": "t"}}}]},
       {"width": 1, "height": 8, "data": {"values": []}, "mark": "point"},
       {"spacing": 0, "hconcat": [
         {"width": 150, "height": 12, "data": {"values": []}, "mark": "point"},
         {"width": 126, "height": 12, "view": {"fill": "#c6e8bf", "stroke": "#7fc27f", "strokeWidth": 0.8}, "data": {"values": [{"t": "Download Table of All Scores as"}]}, "mark": {"type": "text", "font": "Liberation Serif", "fontSize": 6.3, "color": "#555555", "baseline": "middle"}, "encoding": {"text": {"field": "t"}}},
         {"width": 2, "height": 12, "data": {"values": []}, "mark": "point"},
         {"width": 36, "height": 11, "view": {"fill": "#ffffff", "stroke": "#8a8a8a", "strokeWidth": 0.7}, "data": {"values": [{"t": "CSV"}]}, "mark": {"type": "text", "font": "Liberation Serif", "fontSize": 6.5, "color": "#222222", "baseline": "middle", "align": "left", "dx": -16}, "encoding": {"text": {"field": "t"}}},
         {"width": 9, "height": 11, "view": {"fill": "#e6e6e6", "stroke": "#8a8a8a", "strokeWidth": 0.7}, "data": {"values": [{"t": "▾"}]}, "mark": {"type": "text", "fontSize": 7, "color": "#333333", "baseline": "middle"}, "encoding": {"text": {"field": "t"}}}]},
       {"width": 1, "height": 15, "data": {"values": []}, "mark": "point"},
       {"spacing": 0, "hconcat": [
         {"width": 88, "height": 14, "data": {"values": []}, "mark": "point"},
         {"width": 300, "height": 14, "data": {"values": [{"t": "Effect of Drugs on Pathway (Above 75% Quantile)"}]}, "mark": {"type": "text", "font": "Liberation Serif", "fontSize": 12, "fontWeight": "bold", "color": "#16781a", "baseline": "middle"}, "encoding": {"text": {"field": "t"}}}]},
       {"width": 1, "height": 7, "data": {"values": []}, "mark": "point"},
       {"spacing": 0, "hconcat": [
         {"width": 6, "height": 8, "data": {"values": []}, "mark": "point"},
         {"width": 66, "height": 8, "data": {"values": [{"t": "Filter response score"}]}, "mark": {"type": "text", "fontSize": 6.2, "color": "#444444", "baseline": "middle"}, "encoding": {"text": {"field": "t"}}},
         {"width": 6, "height": 8, "data": {"values": []}, "mark": "point"},
         {"width": 14, "height": 8, "data": {"values": [{"t": "0.92"}]}, "mark": {"type": "text", "fontSize": 6.2, "color": "#5b8bd0", "baseline": "middle"}, "encoding": {"text": {"field": "t"}}},
         {"width": 2, "height": 8, "data": {"values": []}, "mark": "point"},
         {"spacing": 0, "vconcat": [
           {"width": 1, "height": 1, "data": {"values": []}, "mark": "point"},
           {"width": 90, "height": 6, "view": {"fill": "#ffffff", "stroke": "#aaaaaa", "strokeWidth": 0.6},
            "layer": [
              {"data": {"values": [{"lo": 0.92, "hi": 1.79}]}, "mark": {"type": "rect", "color": "#c9d0ea"}, "encoding": {"x": {"field": "lo", "type": "quantitative", "scale": {"domain": [0.39, 1.84], "nice": false, "zero": false}, "axis": null}, "x2": {"field": "hi"}}},
              {"data": {"values": [{"v": 0.92}, {"v": 1.79}]}, "mark": {"type": "square", "color": "#4f86d9", "opacity": 1, "size": 34}, "encoding": {"x": {"field": "v", "type": "quantitative", "axis": null}}}]}]},
         {"width": 1, "height": 8, "data": {"values": []}, "mark": "point"},
         {"width": 15, "height": 8, "data": {"values": [{"t": "1.79"}]}, "mark": {"type": "text", "fontSize": 6.2, "color": "#5b8bd0", "baseline": "middle"}, "encoding": {"text": {"field": "t"}}}]},
       {"width": 1, "height": 6, "data": {"values": []}, "mark": "point"},
       {"width": 460, "height": 274, "view": {"fill": "#eeeeee"},
        "data": {"values": [
          {"trt": "T1", "score": 1.786, "up": 1.84, "mx": 2.27, "n": "8", "gl": "HH"},
          {"trt": "T2", "score": 1.7, "up": 1.75, "mx": 2.19},
          {"trt": "T3", "score": 1.658, "up": 1.71, "mx": 2.14, "n": "3", "gl": "WE"},
          {"trt": "T4", "score": 1.583, "up": 1.63, "mx": 2.06, "gl": "NE"},
          {"trt": "DOX 5d", "score": 1.471, "up": 1.52, "mx": 1.96, "n": "3"},
          {"trt": "T6", "score": 1.403, "up": 1.45, "mx": 1.89},
          {"trt": "T7", "score": 1.397, "up": 1.44, "mx": 1.88, "n": "8"},
          {"trt": "T8", "score": 1.278, "up": 1.33, "mx": 1.76},
          {"trt": "T9", "score": 1.268, "up": 1.32, "mx": 1.75},
          {"trt": "T10", "score": 1.241, "up": 1.29, "mx": 1.73},
          {"trt": "T11", "score": 1.18, "up": 1.23, "mx": 1.66},
          {"trt": "EPI 5d", "score": 1.119, "up": 1.17, "mx": 1.6},
          {"trt": "DOX 3d", "score": 1.027, "up": 1.08, "mx": 1.51, "n": "3"},
          {"trt": "T14", "score": 1.027, "up": 1.08, "mx": 1.51, "n": "8"},
          {"trt": "T15", "score": 1.014, "up": 1.06, "mx": 1.49, "n": "3"},
          {"trt": "EPI 3d", "score": 0.98, "up": 1.03, "mx": 1.46},
          {"trt": "T17", "score": 0.966, "up": 1.02, "mx": 1.45},
          {"trt": "T18", "score": 0.949, "up": 1.0, "mx": 1.43, "n": "8"},
          {"trt": "T19", "score": 0.939, "up": 0.99, "mx": 1.42},
          {"trt": "T20", "score": 0.939, "up": 0.99, "mx": 1.42},
          {"trt": "T21", "score": 0.929, "up": 0.98, "mx": 1.41},
          {"trt": "T22", "score": 0.929, "up": 0.98, "mx": 1.41, "n": "3"},
          {"trt": "T23", "score": 0.915, "up": 0.97, "mx": 1.4, "n": "8", "gl": "HH"},
          {"trt": "T24", "score": 0.912, "up": 0.96, "mx": 1.4}]},
        "layer": [
          {"mark": {"type": "bar", "color": "#ff0000"},
           "encoding": {
             "x": {"field": "trt", "type": "nominal", "sort": null, "scale": {"range": [33, 453], "paddingInner": 0.43, "paddingOuter": 0},
               "axis": {"offset": -33, "values": ["DOX 5d", "EPI 5d", "EPI 3d", "DOX 3d"], "labelExpr": "datum.value == 'DOX 3d' ? ['', 'DOX 3d'] : datum.value", "labelFontSize": 7, "labelFontWeight": "bold", "labelColor": "#333333", "labelLineHeight": 14, "labelPadding": 3, "labelAngle": 0, "labelOverlap": false, "ticks": false, "domain": true, "domainColor": "#999999", "domainWidth": 0.8, "title": "Treatment", "titleFontSize": 6.5, "titleFontStyle": "italic", "titleFontWeight": "normal", "titleColor": "#555555", "titlePadding": -14}},
             "y": {"field": "score", "type": "quantitative", "scale": {"domain": [0, 2.4], "range": [241, 5], "nice": false, "zero": false},
               "axis": {"offset": -33, "values": [0, 0.6, 1.2, 1.8, 2.4], "format": ".1f", "labelFontSize": 6.5, "labelColor": "#555555", "ticks": false, "domain": false, "grid": true, "gridColor": "#d9d9d9", "gridWidth": 0.8, "labelPadding": 3, "title": "RPR Score", "titleFontSize": 6, "titleFontStyle": "italic", "titleFontWeight": "normal", "titleColor": "#444444"}},
             "y2": {"datum": 0}}},
          {"mark": {"type": "rule", "color": "#bdbdbd", "strokeWidth": 1},
           "encoding": {"x": {"field": "trt", "type": "nominal", "sort": null}, "y": {"field": "score", "type": "quantitative"}, "y2": {"field": "up"}}},
          {"mark": {"type": "tick", "orient": "vertical", "color": "#bdbdbd", "size": 5, "thickness": 1},
           "encoding": {"x": {"field": "trt", "type": "nominal", "sort": null}, "y": {"field": "mx", "type": "quantitative"}}},
          {"transform": [{"filter": "datum.n"}],
           "mark": {"type": "text", "color": "#6b6bef", "fontSize": 7, "baseline": "alphabetic", "dy": -2},
           "encoding": {"x": {"field": "trt", "type": "nominal", "sort": null}, "y": {"field": "up", "type": "quantitative"}, "text": {"field": "n"}}},
          {"transform": [{"filter": "datum.gl"}],
           "mark": {"type": "text", "color": "#4fae4f", "fontSize": 7, "baseline": "alphabetic", "dy": -3},
           "encoding": {"x": {"field": "trt", "type": "nominal", "sort": null}, "y": {"field": "mx", "type": "quantitative"}, "text": {"field": "gl"}}},
          {"data": {"values": [{"q": "99%", "v": 2.23}, {"q": "95%", "v": 1.29}, {"q": "90%", "v": 0.915}]},
           "mark": {"type": "rule", "strokeDash": [2, 3], "strokeWidth": 0.8},
           "encoding": {"x": {"datum": "T1"}, "x2": {"datum": "T24"}, "y": {"field": "v", "type": "quantitative"},
             "color": {"field": "q", "type": "nominal", "scale": {"domain": ["99%", "95%", "90%"], "range": ["#b26bd0", "#e77c7c", "#f5b342"]}, "legend": null}}},
          {"data": {"values": [{}]},
           "mark": {"type": "rect", "color": "#8fd88f"},
           "encoding": {"x": {"datum": "T10"}, "x2": {"datum": "DOX 3d"}, "y": {"datum": -0.285}, "y2": {"datum": -0.32}}}
        ]}
     ]},
     {"width": 90, "height": 388, "view": {"fill": "white"}, "data": {"values": []}, "mark": "point"}
   ]}
 ]}
]},
{"spacing": 0, "hconcat": [
 {"width": 8, "height": 393, "view": {"fill": "white"}, "data": {"values": []}, "mark": "point"},
 {"width": 1, "height": 393, "view": {"fill": "#555555"}, "data": {"values": []}, "mark": "point"},
 {"width": 18, "height": 393, "view": {"fill": "white"}, "data": {"values": []}, "mark": "point"},
 {"width": 629, "height": 393, "view": {"fill": "white"},
  "data": {"values": [
    {"line": 1, "seg": "b0", "t": "FIGURE 3 |"},
    {"line": 1, "seg": "n98", "t": "Pathway analysis using the ToxDB."},
    {"line": 1, "seg": "b385", "t": "(A)"},
    {"line": 1, "seg": "n415", "t": "Drug view contains links"},
    {"line": 2, "seg": "n0", "t": "to chemical information (top left), specification of the experimental data (top"},
    {"line": 3, "seg": "n0", "t": "right) and the display of the response pathways for that experiment in form of"},
    {"line": 4, "seg": "n0", "t": "an interactive bar plot. Bars indicate the strength of the response, with mouse"},
    {"line": 5, "seg": "n0", "t": "over the user can display further information of the pathway. The background"},
    {"line": 6, "seg": "n0", "t": "distribution of the response scores is displayed as density plot next to the"},
    {"line": 7, "seg": "n0", "t": "plot."},
    {"line": 7, "seg": "b39", "t": "(B)"},
    {"line": 7, "seg": "n69", "t": "Gene view. Once a pathway is selected, user can inspect the"},
    {"line": 8, "seg": "n0", "t": "experimental results of the genes. In this case the log2 fold-changes of the"},
    {"line": 9, "seg": "n0", "t": "genes associated with the pathway “Hypertrophic cardiomyopathy (HCM)”"},
    {"line": 10, "seg": "n0", "t": "from the KEGG database are shown. Stars indicate differentially expressed"},
    {"line": 11, "seg": "n0", "t": "genes (DEGs)."},
    {"line": 11, "seg": "b124", "t": "(C)"},
    {"line": 11, "seg": "n154", "t": "Pathway view. Users can infer specific pathways (here"},
    {"line": 12, "seg": "n0", "t": "“Cardiac muscle contraction”). The interactive bar plots represents the"},
    {"line": 13, "seg": "n0", "t": "response of that pathway in different experiments (e.g., DOX and EPI at 3 and"},
    {"line": 14, "seg": "n0", "t": "5 days experiments)."}]},
  "encoding": {"y": {"field": "line", "type": "ordinal", "scale": {"type": "point", "range": [48, 366], "padding": 0}, "axis": null}, "text": {"field": "t"}},
  "layer": [
    {"transform": [{"filter": "datum.seg == 'n0'"}], "mark": {"type": "text", "align": "left", "baseline": "middle", "fontSize": 18, "color": "#3c3c3c", "dx": -314}},
    {"transform": [{"filter": "datum.seg == 'b0'"}], "mark": {"type": "text", "align": "left", "baseline": "middle", "fontSize": 18, "fontWeight": "bold", "color": "#222222", "dx": -314}},
    {"transform": [{"filter": "datum.seg == 'n98'"}], "mark": {"type": "text", "align": "left", "baseline": "middle", "fontSize": 18, "color": "#3c3c3c", "dx": -215.9}},
    {"transform": [{"filter": "datum.seg == 'b385'"}], "mark": {"type": "text", "align": "left", "baseline": "middle", "fontSize": 18, "fontWeight": "bold", "color": "#222222", "dx": 69}},
    {"transform": [{"filter": "datum.seg == 'n415'"}], "mark": {"type": "text", "align": "left", "baseline": "middle", "fontSize": 18, "color": "#3c3c3c", "dx": 99}},
    {"transform": [{"filter": "datum.seg == 'b39'"}], "mark": {"type": "text", "align": "left", "baseline": "middle", "fontSize": 18, "fontWeight": "bold", "color": "#222222", "dx": -275}},
    {"transform": [{"filter": "datum.seg == 'n69'"}], "mark": {"type": "text", "align": "left", "baseline": "middle", "fontSize": 18, "color": "#3c3c3c", "dx": -245}},
    {"transform": [{"filter": "datum.seg == 'b124'"}], "mark": {"type": "text", "align": "left", "baseline": "middle", "fontSize": 18, "fontWeight": "bold", "color": "#222222", "dx": -190}},
    {"transform": [{"filter": "datum.seg == 'n154'"}], "mark": {"type": "text", "align": "left", "baseline": "middle", "fontSize": 18, "color": "#3c3c3c", "dx": -160}}
  ]}
]}
]
}
